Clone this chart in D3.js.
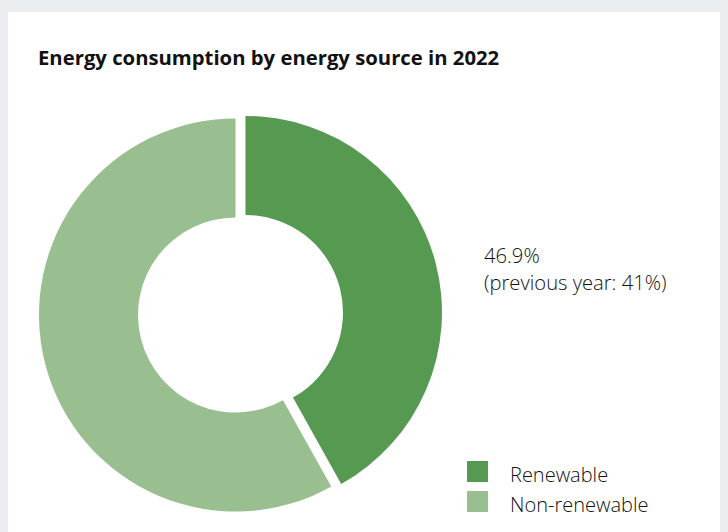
<!DOCTYPE html>
<html><head><meta charset="utf-8">
<script src="https://cdn.jsdelivr.net/npm/d3@7"></script>
<style>
html,body{margin:0;padding:0;background:#ebeef0;}
svg{display:block;}
</style></head>
<body>
<script>
const categories = ["Renewable", "Non-renewable"];
const shares = [41.9, 58.1];
const colors = ["#569a51", "#99bf90"];
const title = "Energy consumption by energy source in 2022";
const annotation = ["46.9%", "(previous year: 41%)"];

const W = 728, H = 532;
const svg = d3.select("body").append("svg").attr("width", W).attr("height", H);
svg.append("rect").attr("x", 8).attr("y", 12).attr("width", 712).attr("height", H).attr("fill", "#ffffff");

svg.append("text").attr("x", 38).attr("y", 65)
  .attr("font-family", "'Open Sans', sans-serif").attr("font-weight", 700)
  .attr("font-size", 20.3).attr("fill", "#111").text(title);

const cx = 235.5, cy = 315, rOuter = 196.5, rInner = 97.5, explode = 10.3;
const pie = d3.pie().sort(null).value(d => d)(shares);
const arc = d3.arc().innerRadius(rInner).outerRadius(rOuter);
const g = svg.append("g").attr("transform", `translate(${cx},${cy})`);
g.selectAll("path").data(pie).join("path")
  .attr("d", arc)
  .attr("fill", (d, i) => colors[i])
  .attr("transform", (d, i) => {
    if (i !== 0) return null;
    const a = (d.startAngle + d.endAngle) / 2;
    return `translate(${explode * Math.sin(a)},${-explode * Math.cos(a)})`;
  });

const ann = svg.append("text").attr("font-family", "'Open Sans', sans-serif")
  .attr("font-weight", 300).attr("font-size", 20.2).attr("fill", "#111");
annotation.forEach((t, i) => ann.append("tspan").attr("x", 484).attr("y", 263 + i * 27).text(t));

const leg = svg.append("g");
categories.forEach((c, i) => {
  leg.append("rect").attr("x", 467).attr("y", 461 + i * 30).attr("width", 21).attr("height", 21).attr("fill", colors[i]);
  leg.append("text").attr("x", 510).attr("y", 482 + i * 30)
    .attr("font-family", "'Open Sans', sans-serif").attr("font-weight", 300)
    .attr("font-size", 20).attr("fill", "#111").text(c);
});
</script>
</body></html>
